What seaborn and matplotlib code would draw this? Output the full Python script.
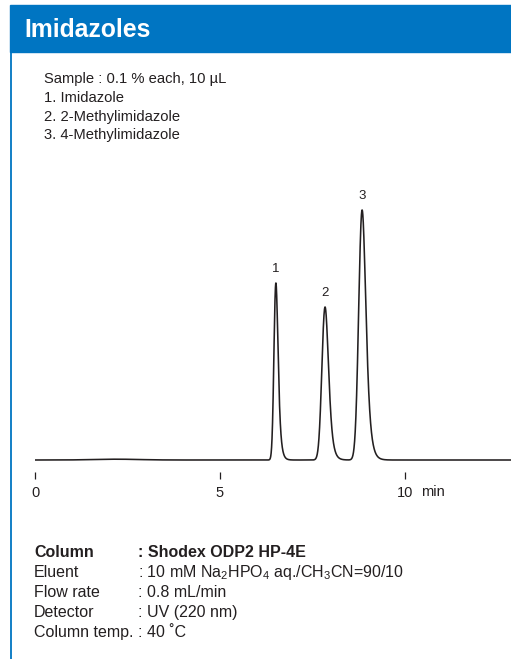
import numpy as np
import pandas as pd
import matplotlib
matplotlib.use("Agg")
import matplotlib.pyplot as plt
import seaborn as sns
from matplotlib.patches import Rectangle
from matplotlib.lines import Line2D

picos = ["1", "2", "3"]
tiempo_ret = [6.51, 7.84, 8.84]      # min
altura = [177, 153, 250]             # unidades arbitrarias
sigma = [0.045, 0.075, 0.08]
tau = [0.05, 0.07, 0.08]
# pequena joroba de la linea base
base_t = [2.2]
base_h = [0.8]
base_w = [0.6]

ticks = [0, 5, 10]
tick_labels = ["0", "5", "10"]

muestra = ["Sample : 0.1 % each, 10 µL", "1. Imidazole", "2. 2-Methylimidazole", "3. 4-Methylimidazole"]
muestra_y = [83.5, 102, 120.5, 139]
cond_nombres = ["Column", "Eluent", "Flow rate", "Detector", "Column temp."]
cond_valores = [": Shodex ODP2 HP-4E", ": 10 mM Na$_2$HPO$_4$ aq./CH$_3$CN=90/10",
                ": 0.8 mL/min", ": UV (220 nm)", ": 40 ˚C"]

W, H = 511, 659
AZUL = "#0075c2"
TEXTO = "#231f20"

sns.set_style("white")
plt.rcParams['font.family'] = ['Liberation Sans', 'DejaVu Sans']
plt.rcParams['mathtext.default'] = 'regular'

# Construye la senal (gaussiana modificada exponencialmente)
dt = 0.002
t = np.arange(0, 12.9, dt)
senal = np.zeros_like(t)
for rt, h, s, ta in zip(tiempo_ret, altura, sigma, tau):
    g = np.exp(-0.5 * ((t - 6.0) / s) ** 2)
    k = np.exp(-np.arange(0, 10 * ta, dt) / ta)
    p = np.convolve(g, k)[:len(t)]
    p = p / p.max()
    desplaz = rt - t[np.argmax(p)]
    senal += h * np.interp(t - desplaz, t, p, left=0, right=0)
for bt, bh, bw in zip(base_t, base_h, base_w):
    senal += bh * np.exp(-0.5 * ((t - bt) / bw) ** 2)

datos = pd.DataFrame({"t": t, "y": senal})

fig = plt.figure(figsize=(W / 100, H / 100), dpi=100)

def fx(x):
    return x / W

def fy(y):
    return 1 - y / H

# Barra de titulo y borde
fig.patches.append(Rectangle((fx(10), fy(52)), fx(W - 10), (52 - 5) / H,
                             transform=fig.transFigure, color=AZUL, zorder=0))
fig.lines.append(Line2D([fx(10.5), fx(10.5)], [fy(52), 0], transform=fig.transFigure,
                        color=AZUL, lw=1.3))
fig.text(fx(24), fy(30), "Imidazoles", color="white", fontsize=17.8, fontweight="bold",
         va="center", ha="left")

for linea, yy in zip(muestra, muestra_y):
    fig.text(fx(44), fy(yy), linea, color=TEXTO, fontsize=10.6, va="baseline")

# Cromatograma
ax = fig.add_axes([fx(35), fy(479), 1 - fx(35), (479 - 180) / H])
sns.lineplot(data=datos, x="t", y="y", ax=ax, color=TEXTO, lw=1.15)
ax.set_xlim(0, (W - 35) / 37.0)
ax.set_ylim(-19, 280)
sns.despine(ax=ax, left=True, bottom=True, top=True, right=True)
ax.set_yticks([])
ax.set_xticks(ticks)
ax.set_xticklabels(tick_labels)
ax.tick_params(axis="x", direction="in", length=5, width=0.9, color=TEXTO,
               pad=5, labelsize=10.5, labelcolor=TEXTO, bottom=True)
ax.set_xlabel("")
ax.set_ylabel("")
fig.text(fx(421), fy(492), "min", fontsize=10.5, color=TEXTO, va="center", ha="left")
for nombre, rt, h in zip(picos, tiempo_ret, altura):
    ax.text(rt, h + 8, nombre, ha="center", va="bottom", fontsize=9.5, color=TEXTO)

# Condiciones
for i, (n, v) in enumerate(zip(cond_nombres, cond_valores)):
    peso = "bold" if i == 0 else "normal"
    fig.text(fx(34), fy(557 + 20 * i), n, color=TEXTO, fontsize=11.5, fontweight=peso, va="baseline")
    fig.text(fx(138), fy(557 + 20 * i), v, color=TEXTO, fontsize=11.5, fontweight=peso, va="baseline")

fig.savefig("out.png", dpi=100)
